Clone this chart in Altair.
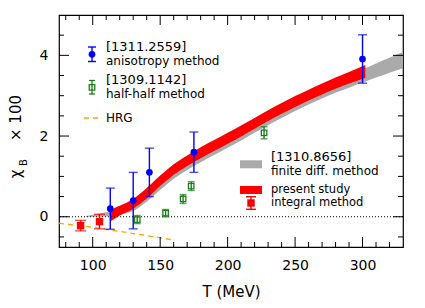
import altair as alt
import pandas as pd

# ---------------- data ----------------
# present study band (red)
red_T = [113, 120, 130, 140, 150, 160, 170, 180, 190, 200, 210, 220, 230, 240, 250, 260, 270, 280, 290, 302]
red_lo = [-0.12, 0.03, 0.20, 0.45, 0.76, 1.04, 1.26, 1.45, 1.63, 1.81, 1.99, 2.18, 2.37, 2.55, 2.72, 2.88, 3.03, 3.17, 3.30, 3.44]
red_hi = [0.17, 0.27, 0.44, 0.71, 1.02, 1.30, 1.52, 1.72, 1.90, 2.08, 2.26, 2.45, 2.64, 2.82, 2.99, 3.15, 3.30, 3.45, 3.59, 3.76]

# finite diff band (gray) [1310.8656]
gray_T = [95, 105, 113, 120, 130, 140, 150, 160, 170, 180, 190, 200, 210, 220, 230, 240, 250, 260, 270, 280, 290, 300, 310, 320, 330]
gray_lo = [0.0, 0.0, 0.02, 0.05, 0.14, 0.37, 0.66, 0.94, 1.16, 1.35, 1.53, 1.71, 1.89, 2.08, 2.27, 2.45, 2.62, 2.78, 2.93, 3.07, 3.20, 3.33, 3.45, 3.57, 3.68]
gray_hi = [0.02, 0.08, 0.13, 0.20, 0.33, 0.60, 0.90, 1.18, 1.40, 1.60, 1.78, 1.96, 2.14, 2.33, 2.52, 2.70, 2.87, 3.03, 3.19, 3.35, 3.50, 3.65, 3.80, 3.94, 4.08]

# HRG (orange dashed)
hrg_T = [75, 100, 113, 125, 135, 150, 160]
hrg_v = [-0.16, -0.26, -0.33, -0.39, -0.44, -0.52, -0.58]

# anisotropy method [1311.2559] (blue)
blue_T = [113, 130, 142, 175, 300]
blue_v = [0.20, 0.40, 1.10, 1.60, 3.91]
blue_e = [0.51, 0.70, 0.60, 0.50, 0.60]

# half-half method [1309.1142] (green)
green_T = [133, 154, 167, 173, 227]
green_v = [-0.07, 0.09, 0.44, 0.76, 2.08]
green_e = [0.10, 0.09, 0.11, 0.11, 0.15]

# integral method, present study (red points)
redp_T = [91, 105]
redp_v = [-0.22, -0.12]
redp_e = [0.13, 0.18]

# axis ticks
x_major = [100, 150, 200, 250, 300]
x_minor = [80, 90, 110, 120, 130, 140, 160, 170, 180, 190, 210, 220, 230, 240, 260, 270, 280, 290, 310, 320]
y_major = [0, 2, 4]
y_minor = [-0.5, 0.5, 1, 1.5, 2.5, 3, 3.5, 4.5]

# ---------------- layout ----------------
W, H = 344, 232
X0, Y0 = 59, 15  # page position of plot area
FONT = "DejaVu Sans"
BLUE = "#0000ff"
GREEN = "#1b7d1b"
RED = "#ff0000"
GRAY = "#aaaaaa"
ORANGE = "#ffa500"

xs = alt.Scale(domain=[75, 330], nice=False, zero=False)
ys = alt.Scale(domain=[-0.75, 5.0], nice=False, zero=False)

red_df = pd.DataFrame({"T": red_T, "lo": red_lo, "hi": red_hi})
gray_df = pd.DataFrame({"T": gray_T, "lo": gray_lo, "hi": gray_hi})
hrg_df = pd.DataFrame({"T": hrg_T, "v": hrg_v})


def pts(T, v, e):
    return pd.DataFrame({"T": T, "v": v,
                         "lo": [a - b for a, b in zip(v, e)],
                         "hi": [a + b for a, b in zip(v, e)]})


blue_df = pts(blue_T, blue_v, blue_e)
green_df = pts(green_T, green_v, green_e)
redp_df = pts(redp_T, redp_v, redp_e)

X = alt.X("T:Q", scale=xs,
          axis=alt.Axis(values=x_major, ticks=False, domain=False, grid=False,
                        labelFontSize=14, labelPadding=11, title="T  (MeV)",
                        titleFontSize=15, titleFontWeight="normal", titlePadding=12))
Y = alt.Y("lo:Q", scale=ys,
          axis=alt.Axis(values=y_major, ticks=False, domain=False, grid=False,
                        labelFontSize=14, labelPadding=11, title=None))

gray_band = alt.Chart(gray_df).mark_area(color=GRAY, opacity=1, interpolate="monotone").encode(
    x=X, y=Y, y2="hi:Q")
red_band = alt.Chart(red_df).mark_area(color=RED, opacity=1, interpolate="monotone").encode(
    x="T:Q", y="lo:Q", y2="hi:Q")

zero = alt.Chart(pd.DataFrame({"z": [0]})).mark_rule(
    color="black", strokeDash=[1, 2], strokeWidth=1).encode(y=alt.Y("z:Q", scale=ys))

hrg = alt.Chart(hrg_df).mark_line(color=ORANGE, strokeDash=[5, 4], strokeWidth=1.3).encode(
    x="T:Q", y=alt.Y("v:Q", scale=ys))


def errpts(df, color, cap, shape_layer):
    bar = alt.Chart(df).mark_rule(color=color, strokeWidth=1.4).encode(
        x="T:Q", y="lo:Q", y2="hi:Q")
    c1 = alt.Chart(df).mark_tick(color=color, orient="horizontal", size=cap, thickness=1.4).encode(
        x="T:Q", y="lo:Q")
    c2 = alt.Chart(df).mark_tick(color=color, orient="horizontal", size=cap, thickness=1.4).encode(
        x="T:Q", y="hi:Q")
    return [bar, c1, c2, shape_layer]


blue_layers = errpts(blue_df, BLUE, 9,
                     alt.Chart(blue_df).mark_circle(color=BLUE, size=45, opacity=1).encode(x="T:Q", y="v:Q"))
green_layers = errpts(green_df, GREEN, 7,
                      alt.Chart(green_df).mark_square(color=GREEN, filled=False, size=30, strokeWidth=1.3,
                                                      opacity=1).encode(x="T:Q", y="v:Q"))
red_layers = errpts(redp_df, RED, 11,
                    alt.Chart(redp_df).mark_square(color=RED, size=55, opacity=1).encode(x="T:Q", y="v:Q"))


# inward ticks on all four sides
def xticks(vals, length):
    d = pd.DataFrame({"t": vals})
    b = alt.Chart(d).mark_rule(color="black", strokeWidth=1).encode(
        x=alt.X("t:Q", scale=xs), y=alt.value(H), y2=alt.value(H - length))
    t = alt.Chart(d).mark_rule(color="black", strokeWidth=1).encode(
        x=alt.X("t:Q", scale=xs), y=alt.value(0), y2=alt.value(length))
    return [b, t]


def yticks(vals, length):
    d = pd.DataFrame({"t": vals})
    l = alt.Chart(d).mark_rule(color="black", strokeWidth=1).encode(
        y=alt.Y("t:Q", scale=ys), x=alt.value(0), x2=alt.value(length))
    r = alt.Chart(d).mark_rule(color="black", strokeWidth=1).encode(
        y=alt.Y("t:Q", scale=ys), x=alt.value(W), x2=alt.value(W - length))
    return [l, r]


tick_layers = xticks(x_major, 10) + xticks(x_minor, 5) + yticks(y_major, 10) + yticks(y_minor, 5)

one = pd.DataFrame({"a": [0]})


def txt(s, px, py, size=12, align="left", baseline="middle", angle=0):
    kw = dict(text=s, fontSize=size, align=align, baseline=baseline, color="black", font=FONT)
    if angle:
        kw["angle"] = angle
    return alt.Chart(one).mark_text(**kw).encode(x=alt.value(px - X0), y=alt.value(py - Y0))


def hline(x1, x2, py, color, width, dash=None):
    kw = dict(color=color, strokeWidth=width)
    if dash:
        kw["strokeDash"] = dash
    return alt.Chart(one).mark_rule(**kw).encode(
        x=alt.value(x1 - X0), x2=alt.value(x2 - X0), y=alt.value(py - Y0))


def vline(px, y1, y2, color, width):
    return alt.Chart(one).mark_rule(color=color, strokeWidth=width).encode(
        x=alt.value(px - X0), y=alt.value(y1 - Y0), y2=alt.value(y2 - Y0))


legend = [
    # blue
    vline(92, 47, 61.5, BLUE, 1.4), hline(88, 96, 47, BLUE, 1.4), hline(88, 96, 61.5, BLUE, 1.4),
    alt.Chart(one).mark_circle(color=BLUE, size=45, opacity=1).encode(x=alt.value(92 - X0), y=alt.value(54.3 - Y0)),
    txt("[1311.2559]", 106, 46.5, 13), txt("anisotropy method", 106, 61),
    # green
    vline(92, 80.5, 94, GREEN, 1.3), hline(89, 95, 80.5, GREEN, 1.3), hline(89, 95, 94, GREEN, 1.3),
    alt.Chart(one).mark_square(color=GREEN, filled=False, size=30, strokeWidth=1.3, opacity=1).encode(
        x=alt.value(92 - X0), y=alt.value(87.3 - Y0)),
    txt("[1309.1142]", 106, 79.5, 13), txt("half-half method", 106, 93.5),
    # HRG
    hline(84, 99, 118, ORANGE, 1.3, [5, 4]),
    txt("HRG", 106, 118),
    # gray band
    hline(240, 262, 164.3, GRAY, 8),
    txt("[1310.8656]", 271, 156.5, 13), txt("finite diff. method", 271, 171),
    # red band + points
    hline(240, 262, 190, RED, 8),
    vline(251, 196.7, 209.3, RED, 1.4), hline(246, 256, 196.7, RED, 1.4), hline(246, 256, 209.3, RED, 1.4),
    alt.Chart(one).mark_square(color=RED, size=55, opacity=1).encode(x=alt.value(251 - X0), y=alt.value(203 - Y0)),
    txt("present study", 271, 190, 11.5), txt("integral method", 271, 203, 11.5),
]

# y-axis title with subscript
ytitle = [
    txt("\u03c7", 21, 174, 15, align="center", baseline="alphabetic", angle=270),
    txt("B", 26.5, 162.5, 10, align="center", baseline="alphabetic", angle=270),
    txt("\u00d7 100", 21, 118, 15, align="center", baseline="alphabetic", angle=270),
]

chart = alt.layer(
    gray_band, red_band, zero, hrg,
    *green_layers, *red_layers, *blue_layers,
    *tick_layers, *legend, *ytitle,
).properties(
    width=W, height=H,
    padding={"left": X0 - 8, "top": Y0 - 8, "right": 14, "bottom": 53},
    autosize=alt.AutoSizeParams(type="none"),
).configure(font=FONT).configure_view(
    stroke="black", strokeWidth=1.2
).configure_axis(labelFont=FONT, titleFont=FONT, labelColor="black", titleColor="black")

chart.save("out.html", embed_options={"renderer": "svg", "actions": False})
